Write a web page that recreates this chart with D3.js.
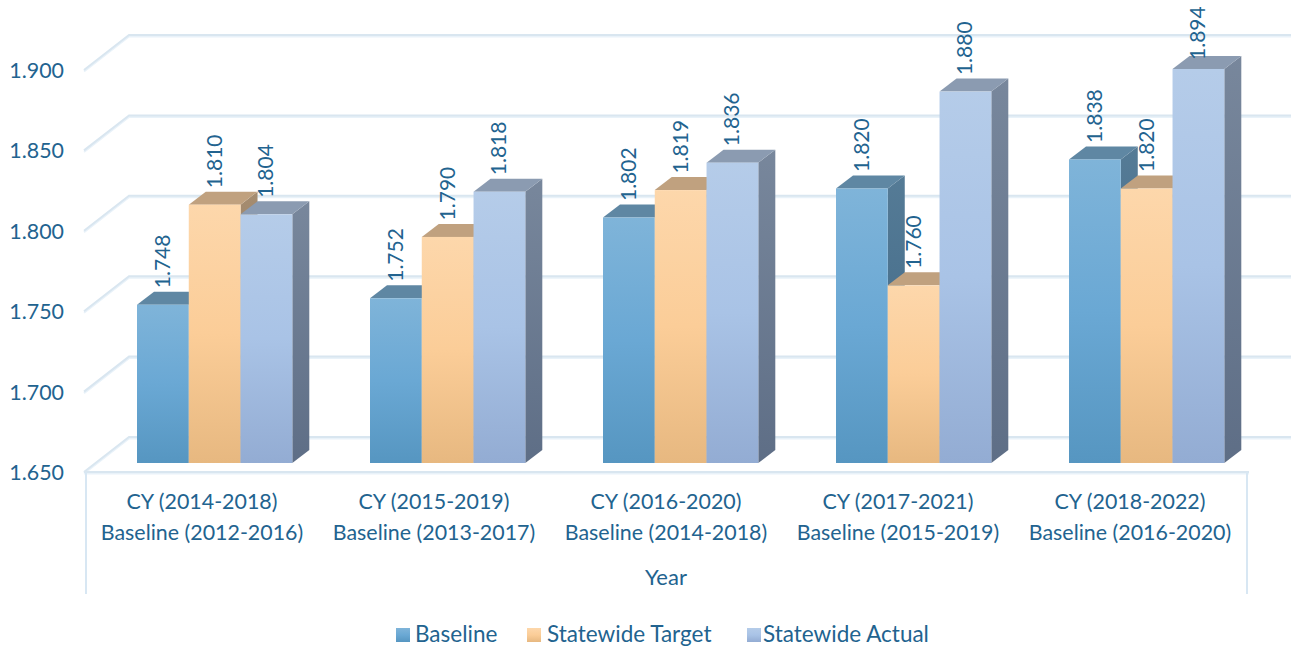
<!DOCTYPE html>
<html><head><meta charset="utf-8">
<script src="https://cdn.jsdelivr.net/npm/d3@7"></script>
<style>html,body{margin:0;padding:0;background:#fff}svg{display:block}text{font-family:Lato,"Open Sans",sans-serif;fill:#22638f}</style>
</head><body><svg id="c" width="1291" height="650"></svg>
<script>
const periods = ["CY (2014-2018)","CY (2015-2019)","CY (2016-2020)","CY (2017-2021)","CY (2018-2022)"];
const baselines = ["Baseline (2012-2016)","Baseline (2013-2017)","Baseline (2014-2018)","Baseline (2015-2019)","Baseline (2016-2020)"];
const seriesNames = ["Baseline","Statewide Target","Statewide Actual"];
const baselineValues = [1.748,1.752,1.802,1.820,1.838];
const targetValues = [1.810,1.790,1.819,1.760,1.820];
const actualValues = [1.804,1.818,1.836,1.880,1.894];
const yTicks = [1.65,1.70,1.75,1.80,1.85,1.90];
const seriesValues = [baselineValues,targetValues,actualValues];
const palette = [
 {id:"b",front:["#7fb4d9","#6aa8d4","#5696c1"],top:"#5f87a3",side:["#557b96","#3d6685"]},
 {id:"t",front:["#fdd7ab","#fbcd98","#e7b880"],top:"#c0a17f",side:["#a58c70","#94764f"]},
 {id:"a",front:["#b5cce9","#a9c3e6","#93acd3"],top:"#8b9bb1",side:["#78879c","#5e6e86"]}
];
const svg = d3.select("#c");
const defs = svg.append("defs");
palette.forEach(p=>{
  const g=defs.append("linearGradient").attr("id","f"+p.id).attr("x1",0).attr("y1",0).attr("x2",0).attr("y2",1);
  g.selectAll("stop").data(p.front).join("stop").attr("offset",(d,i)=>i/2).attr("stop-color",d=>d);
  const s=defs.append("linearGradient").attr("id","s"+p.id).attr("x1",0).attr("y1",0).attr("x2",0).attr("y2",1);
  s.selectAll("stop").data(p.side).join("stop").attr("offset",(d,i)=>i).attr("stop-color",d=>d);
});
const depthGridX=45, depthGridY=35, depthBarX=17, depthBarY=13;
const yGrid = d3.scaleLinear().domain([1.65,1.90]).range([472,70]);
const yBar = d3.scaleLinear().domain([1.65,1.90]).range([463,59.3]);
const x0 = d3.scaleBand().domain(periods).range([98.5,1263.5]);
const x1 = d3.scaleBand().domain(seriesNames).range([38.5,193.8]);
const gridDark="#d9e6f0", gridLight="#e9f2f9";
const grid=svg.append("g");
yTicks.forEach(t=>{
  const y=yGrid(t);
  const d=`M84,${y}L${84+depthGridX},${y-depthGridY}L1291,${y-depthGridY}`;
  grid.append("path").attr("fill","none").attr("stroke",gridLight).attr("stroke-width",2).attr("transform","translate(0,1.5)").attr("d",d);
  grid.append("path").attr("fill","none").attr("stroke",gridDark).attr("stroke-width",2).attr("d",d);
});
const fl=yGrid(1.65);
grid.append("path").attr("fill","none").attr("stroke",gridLight).attr("stroke-width",2).attr("transform","translate(0,1.5)").attr("d",`M84,${fl}H1249`);
grid.append("path").attr("fill","none").attr("stroke",gridDark).attr("stroke-width",2).attr("d",`M84,${fl}H1249`);
grid.append("path").attr("fill","none").attr("stroke","#d8e7f3").attr("stroke-width",2)
  .attr("d",`M86,${fl}V594M1247,${fl}V594`);
const yAxis=d3.axisLeft(yGrid).tickValues(yTicks).tickFormat(d3.format(".3f")).tickSize(0);
const ya=svg.append("g").attr("transform","translate(67,0)").call(yAxis);
ya.select(".domain").remove();
ya.selectAll("text").attr("font-size",21.4).attr("font-family",null).attr("x",-3).attr("dy","0.35em");
const bars=svg.append("g");
const labels=svg.append("g");
periods.forEach((c,ci)=>{
  seriesNames.forEach((s,si)=>{
    const v=seriesValues[si][ci], p=palette[si];
    const x=x0(c)+x1(s), w=x1.bandwidth(), y=yBar(v), y0=yBar(1.65);
    const g=bars.append("g");
    g.append("path").attr("fill",`url(#s${p.id})`)
      .attr("d",`M${x+w},${y}L${x+w+depthBarX},${y-depthBarY}V${y0-depthBarY}L${x+w},${y0}Z`);
    g.append("path").attr("fill",p.top)
      .attr("d",`M${x},${y}L${x+depthBarX},${y-depthBarY}H${x+w+depthBarX}L${x+w},${y}Z`);
    g.append("rect").attr("x",x).attr("y",y).attr("width",w).attr("height",y0-y).attr("fill",`url(#f${p.id})`);
    const ly=Math.max(y-16.5,60);
    labels.append("text").attr("font-size",21).attr("text-anchor","start")
      .attr("transform",`translate(${x+w/2+7},${ly}) rotate(-90)`).text(d3.format(".3f")(v));
  });
  const cx=x0(c)+x0.bandwidth()/2-13-ci;
  svg.append("text").attr("x",cx).attr("y",509).attr("text-anchor","middle").attr("font-size",21.4).text(c);
  svg.append("text").attr("x",cx).attr("y",540).attr("text-anchor","middle").attr("font-size",21.4).text(baselines[ci]);
});
svg.append("text").attr("x",666).attr("y",585).attr("text-anchor","middle").attr("font-size",22).text("Year");
const lx=[396,527,747];
const lxText=[415,547,763];
seriesNames.forEach((s,i)=>{
  svg.append("rect").attr("x",lx[i]).attr("y",628).attr("width",14).attr("height",14).attr("fill",`url(#f${palette[i].id})`);
  svg.append("text").attr("x",lxText[i]).attr("y",642).attr("font-size",22.5).text(s);
});
</script></body></html>
